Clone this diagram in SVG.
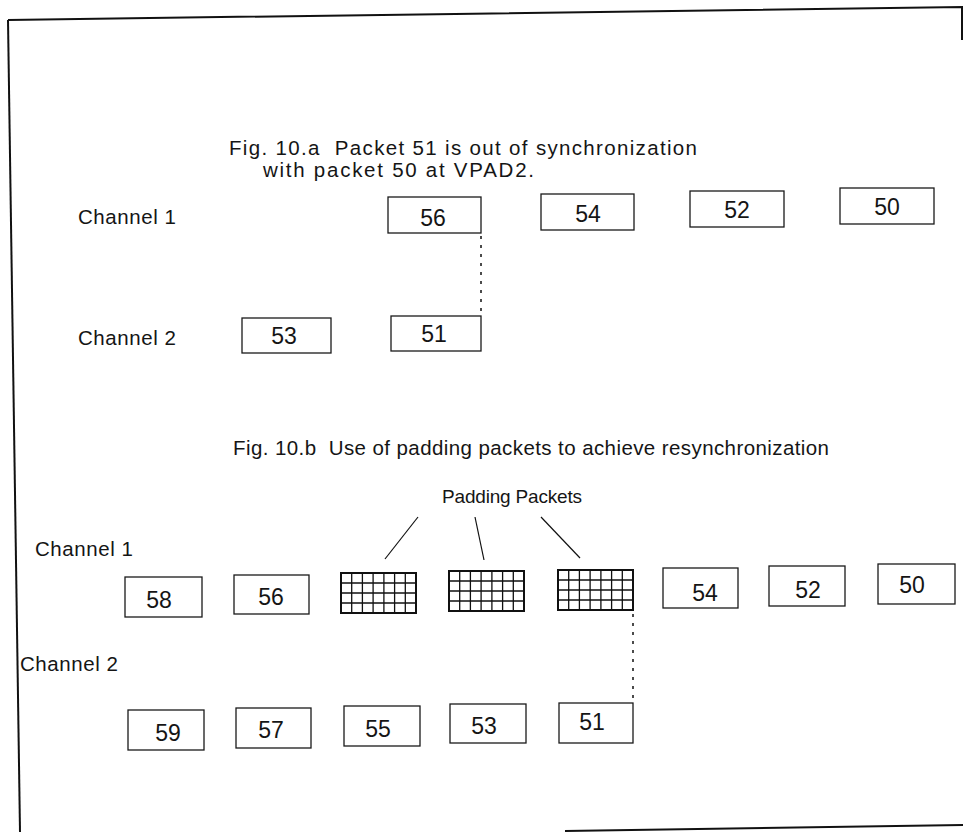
<svg xmlns="http://www.w3.org/2000/svg" width="963" height="832" viewBox="0 0 963 832">
<style>
  text { font-family: "Liberation Sans", Arial, sans-serif; fill: #151515; white-space: pre; }
  .t { font-size: 20.5px; }
  .n { font-size: 23px; text-anchor: middle; }
  .box { fill: #fff; stroke: #1a1a1a; stroke-width: 1.3; }
  .grid { fill: none; stroke: #111; stroke-width: 1.3; }
  .gout { fill: #fff; stroke: #111; stroke-width: 2; }
  .dot { fill: none; stroke: #111; stroke-width: 1.5; stroke-dasharray: 3 6; }
  .lead { fill: none; stroke: #111; stroke-width: 1.2; }
</style>
<defs>
  <g id="pad">
    <rect class="gout" x="0" y="0" width="75" height="40"/>
    <path class="grid" d="M10.7 0V40M21.4 0V40M32.1 0V40M42.9 0V40M53.6 0V40M64.3 0V40M0 10H75M0 20H75M0 30H75"/>
  </g>
</defs>
<rect width="963" height="832" fill="#fff"/>
<path d="M8 20 L962 7 L962 40" fill="none" stroke="#111" stroke-width="2"/>
<path d="M8 20 L20 832" fill="none" stroke="#111" stroke-width="2"/>
<path d="M565 831 L963 825" fill="none" stroke="#111" stroke-width="2"/>

<g id="titles">
  <text class="t" x="229" y="155" textLength="468" lengthAdjust="spacing">Fig. 10.a  Packet 51 is out of synchronization</text>
  <text class="t" x="263" y="177" textLength="271" lengthAdjust="spacing">with packet 50 at VPAD2.</text>
  <text class="t" x="233" y="455" textLength="596" lengthAdjust="spacing">Fig. 10.b  Use of padding packets to achieve resynchronization</text>
  <text x="442" y="503" style="font-size:19px" textLength="140" lengthAdjust="spacing">Padding Packets</text>
</g>
<g id="labels">
  <text class="t" x="78" y="224" textLength="98" lengthAdjust="spacing">Channel 1</text>
  <text class="t" x="78" y="345" textLength="98" lengthAdjust="spacing">Channel 2</text>
  <text class="t" x="35" y="556" textLength="98" lengthAdjust="spacing">Channel 1</text>
  <text class="t" x="20" y="671" textLength="98" lengthAdjust="spacing">Channel 2</text>
</g>

<g id="connectors">
  <path class="dot" d="M481 236 V314"/>
  <path class="dot" d="M633 614 V702"/>
  <path class="lead" d="M418 517 L385 559"/>
  <path class="lead" d="M475 517 L484 560"/>
  <path class="lead" d="M541 517 L580 558"/>
</g>

<g id="a-ch1-56"><rect class="box" x="388" y="197" width="93" height="36"/><text class="n" x="433" y="226">56</text></g>
<g id="a-ch1-54"><rect class="box" x="541" y="194" width="93" height="36"/><text class="n" x="588" y="222">54</text></g>
<g id="a-ch1-52"><rect class="box" x="690" y="191" width="94" height="36"/><text class="n" x="737" y="218">52</text></g>
<g id="a-ch1-50"><rect class="box" x="840" y="188" width="94" height="36"/><text class="n" x="887" y="215">50</text></g>
<g id="a-ch2-53"><rect class="box" x="242" y="318" width="89" height="35"/><text class="n" x="284" y="344">53</text></g>
<g id="a-ch2-51"><rect class="box" x="391" y="316" width="90" height="35"/><text class="n" x="434" y="342">51</text></g>

<g id="b-ch1-58"><rect class="box" x="125" y="577" width="77" height="40"/><text class="n" x="159" y="608">58</text></g>
<g id="b-ch1-56"><rect class="box" x="234" y="575" width="75" height="39"/><text class="n" x="271" y="605">56</text></g>
<g id="b-pad1"><use href="#pad" x="341" y="573"/></g>
<g id="b-pad2"><use href="#pad" x="449" y="571"/></g>
<g id="b-pad3"><use href="#pad" x="558" y="570"/></g>
<g id="b-ch1-54"><rect class="box" x="663" y="568" width="75" height="40"/><text class="n" x="705" y="601">54</text></g>
<g id="b-ch1-52"><rect class="box" x="769" y="566" width="76" height="40"/><text class="n" x="808" y="598">52</text></g>
<g id="b-ch1-50"><rect class="box" x="878" y="564" width="77" height="40"/><text class="n" x="912" y="593">50</text></g>

<g id="b-ch2-59"><rect class="box" x="128" y="710" width="76" height="40"/><text class="n" x="168" y="741">59</text></g>
<g id="b-ch2-57"><rect class="box" x="236" y="708" width="75" height="40"/><text class="n" x="271" y="738">57</text></g>
<g id="b-ch2-55"><rect class="box" x="344" y="706" width="76" height="40"/><text class="n" x="378" y="737">55</text></g>
<g id="b-ch2-53"><rect class="box" x="450" y="704" width="76" height="39"/><text class="n" x="484" y="734">53</text></g>
<g id="b-ch2-51"><rect class="box" x="559" y="703" width="74" height="40"/><text class="n" x="592" y="730">51</text></g>
</svg>
